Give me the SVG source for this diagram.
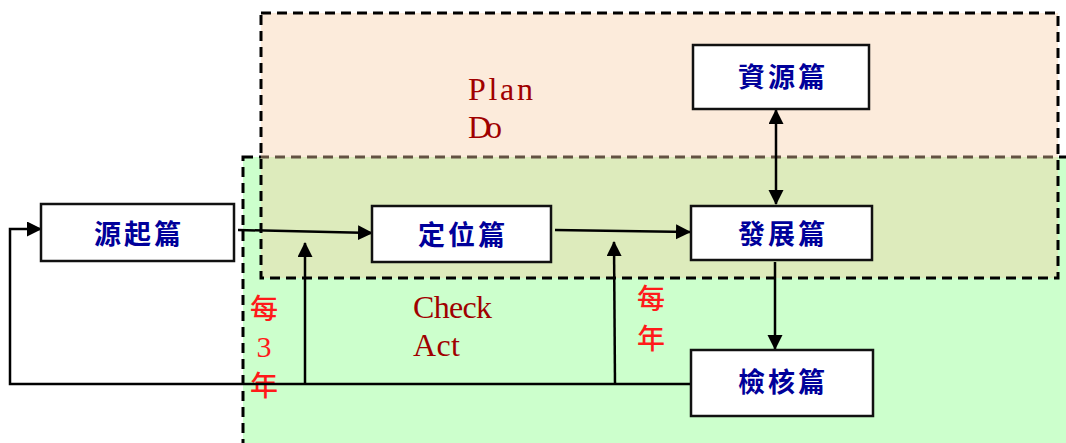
<svg xmlns="http://www.w3.org/2000/svg" width="1066" height="443" viewBox="0 0 1066 443">
<style>
.node rect{fill:#fff;stroke:#111;stroke-width:2.5}
.node text{font-family:"Noto Sans CJK TC","Noto Sans CJK SC",sans-serif;font-weight:bold;font-size:27px;fill:#00009a;text-anchor:middle;letter-spacing:3px}
.lab{font-family:"Liberation Serif",serif;font-size:32px;fill:#a00000}
.red{font-family:"Noto Sans CJK TC","Liberation Serif",sans-serif;font-size:28px;font-weight:500;fill:#ff1a1a;text-anchor:middle}
.num{font-family:"Liberation Serif",serif;font-size:30px;fill:#ff1a1a;text-anchor:middle}
.conn path{fill:none;stroke:#000;stroke-width:2.5}
.zone{stroke:#000;stroke-width:3;stroke-dasharray:10 6}
</style>
<defs>
<marker id="ah" markerUnits="userSpaceOnUse" markerWidth="16" markerHeight="16" refX="14" refY="7.5" orient="auto-start-reverse">
<path d="M0,0 L15,7.5 L0,15 Z" fill="#000"/>
</marker>
</defs>
<rect x="0" y="0" width="1066" height="443" fill="#fff"/>
<g id="zone-check">
<rect class="zone" x="243" y="157" width="830" height="300" fill="#ccffcc"/>
</g>
<g id="zone-plan">
<rect x="261" y="13" width="797" height="265" fill="#f7cda6" fill-opacity="0.4"/>
<rect class="zone" x="261" y="13" width="797" height="265" fill="none"/>
</g>
<text class="lab" x="468" y="100" textLength="65" lengthAdjust="spacing">Plan</text>
<text class="lab" x="468" y="138" textLength="34" lengthAdjust="spacing">Do</text>
<text class="lab" x="413" y="318" textLength="79" lengthAdjust="spacing">Check</text>
<text class="lab" x="413" y="356" textLength="47" lengthAdjust="spacing">Act</text>
<g id="label-3y">
<text class="red" x="264" y="319">每</text>
<text class="num" x="264" y="357">3</text>
<text class="red" x="264" y="396">年</text>
</g>
<g id="label-1y">
<text class="red" x="651" y="309">每</text>
<text class="red" x="651" y="349">年</text>
</g>
<g class="conn" id="connectors">
<path d="M238,230 L372,233" marker-end="url(#ah)"/>
<path d="M555,230 L690,232" marker-end="url(#ah)"/>
<path d="M776,110 L776,204" marker-start="url(#ah)" marker-end="url(#ah)"/>
<path d="M775,262 L775,349" marker-end="url(#ah)"/>
<path d="M691,384 L10,384 L10,229 L41,229" marker-end="url(#ah)"/>
<path d="M305,384 L305,243" marker-end="url(#ah)"/>
<path d="M615,384 L614,242" marker-end="url(#ah)"/>
</g>
<g class="node" id="n-origin">
<rect x="41" y="204" width="193" height="57"/>
<text x="139" y="244">源起篇</text>
</g>
<g class="node" id="n-position">
<rect x="372" y="206" width="179" height="56"/>
<text x="463" y="245">定位篇</text>
</g>
<g class="node" id="n-develop">
<rect x="691" y="206" width="181" height="54"/>
<text x="783" y="244">發展篇</text>
</g>
<g class="node" id="n-resource">
<rect x="693" y="45" width="176" height="64"/>
<text x="783" y="87">資源篇</text>
</g>
<g class="node" id="n-check">
<rect x="691" y="350" width="182" height="66"/>
<text x="783" y="392">檢核篇</text>
</g>
</svg>
